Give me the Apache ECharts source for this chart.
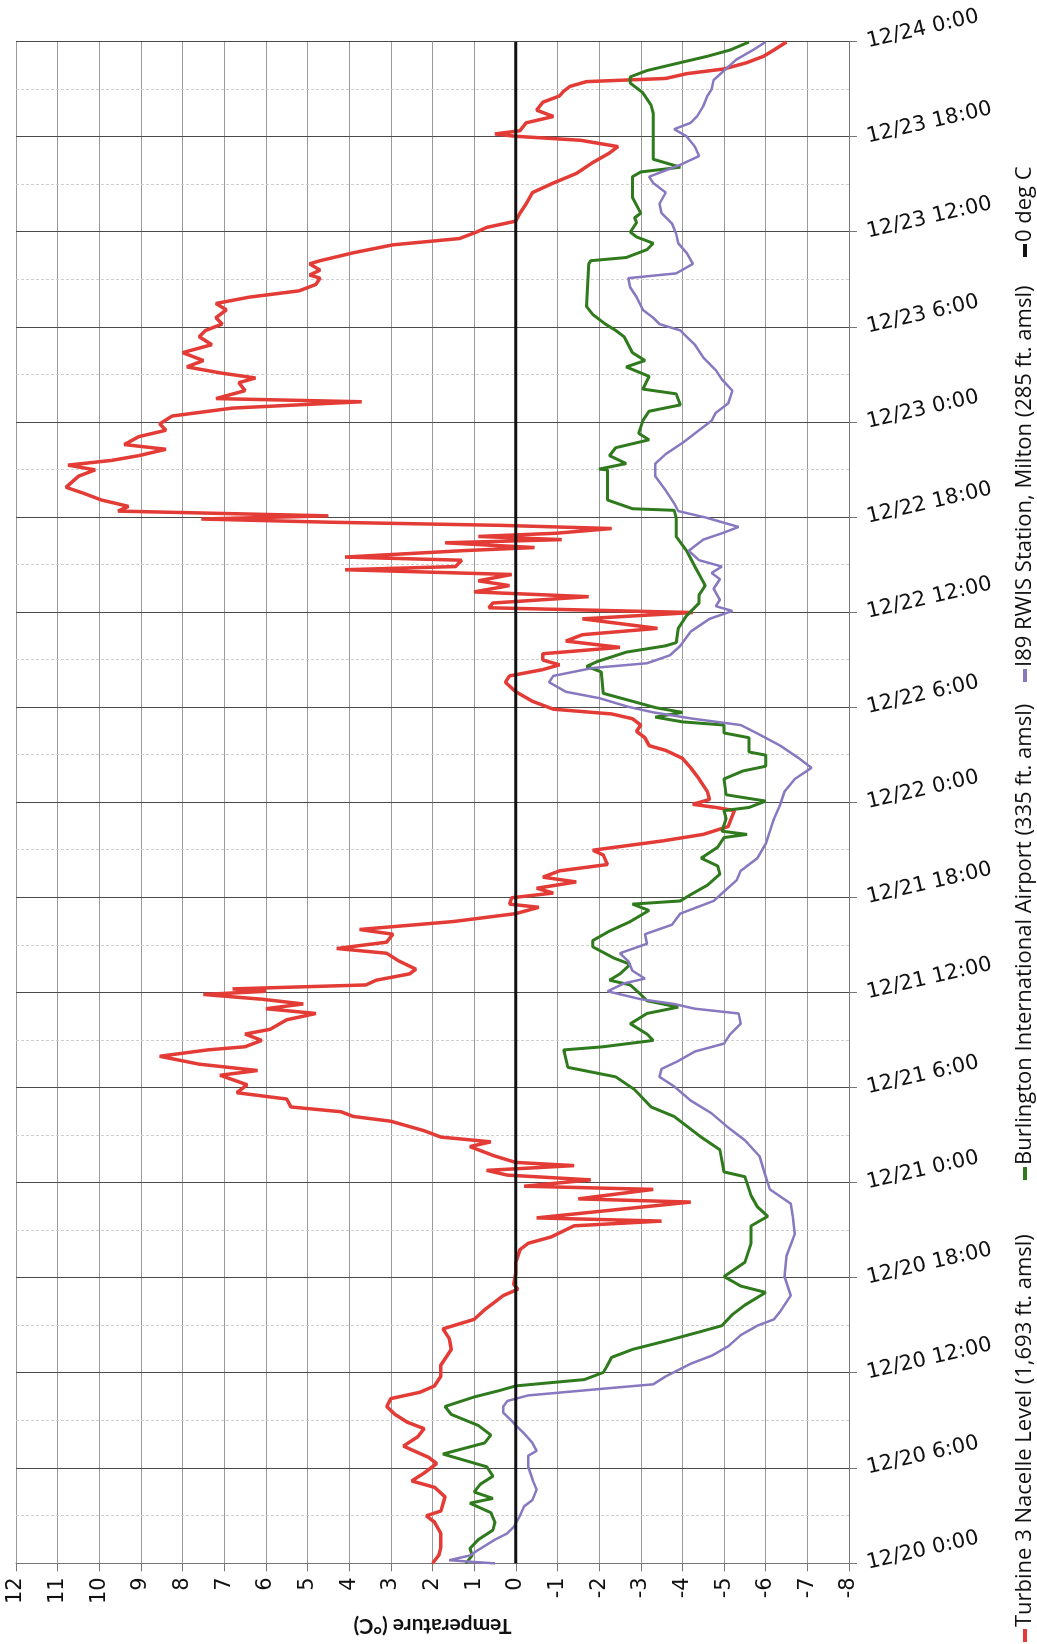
<!DOCTYPE html>
<html>
<head>
<meta charset="utf-8">
<title>Temperature, 12/20 - 12/24</title>
<script src="https://cdn.jsdelivr.net/npm/echarts@6.0.0/dist/echarts.min.js"></script>
<style>
  html, body { margin: 0; padding: 0; background: #fff; overflow: hidden; }
  #wrap { position: absolute; left: 0; top: 0; width: 1037px; height: 1644px; overflow: hidden; }
  /* chart is laid out landscape, then turned a quarter left like the scanned page */
  #chart { position: absolute; left: 0; top: 0; width: 1644px; height: 1037px;
           transform-origin: 0 0; transform: translate(0, 1644px) rotate(-90deg); }
</style>
</head>
<body>
<div id="wrap"><div id="chart"></div></div>
<script>
// hours since 12/20 0:00, temperature in deg C
const timeLabels = ['12/20 0:00', '12/20 6:00', '12/20 12:00', '12/20 18:00',
  '12/21 0:00', '12/21 6:00', '12/21 12:00', '12/21 18:00',
  '12/22 0:00', '12/22 6:00', '12/22 12:00', '12/22 18:00',
  '12/23 0:00', '12/23 6:00', '12/23 12:00', '12/23 18:00', '12/24 0:00'];

const seriesNames = ['Turbine 3 Nacelle Level (1,693 ft. amsl)',
  'Burlington International Airport (335 ft. amsl)',
  'I89 RWIS Station, Milton (285 ft. amsl)',
  '0 deg C'];

const turbine = [[0,2.0],[0.5,1.85],[1.0,1.8],[1.9,1.8],[2.6,1.95],[3.0,2.15],[3.3,1.8],[4.2,1.7],[4.8,1.95],
  [5.2,2.5],[5.7,2.2],[6.3,1.9],[6.7,2.1],[7.4,2.7],[8.0,2.35],[8.5,2.2],[8.9,2.6],[9.4,2.9],[9.9,3.1],
  [10.4,3.0],[10.8,2.3],[11.2,1.95],[11.8,1.8],[12.5,1.8],[13.5,1.55],[14.2,1.6],[14.8,1.75],[15.4,1.0],
  [16.0,0.75],[16.5,0.5],[16.9,0.3],[17.3,-0.05],[17.6,0.05],[18.3,0.0],[19.0,0.0],[19.8,-0.1],[20.2,-0.3],
  [20.6,-0.85],[21.3,-1.4],[21.6,-3.5],[21.8,-0.5],[22.1,-1.6],[22.8,-4.2],[23.0,-1.5],[23.6,-3.3],[23.8,-0.2],
  [24.2,-1.8],[24.5,0.2],[24.8,0.7],[25.1,-1.4],[25.3,0.0],[25.7,0.5],[26.3,1.1],[26.6,0.6],[26.9,1.8],
  [27.3,2.2],[27.9,3.0],[28.2,3.9],[28.5,4.2],[28.8,5.4],[29.3,5.5],[29.7,6.7],[30.2,6.45],[30.8,7.1],
  [31.1,6.2],[31.5,7.6],[32.0,8.55],[32.4,7.4],[32.6,6.5],[33.0,6.1],[33.4,6.5],[33.7,5.9],[34.3,5.5],
  [34.7,4.8],[35.0,6.0],[35.3,5.1],[35.6,6.1],[35.9,7.5],[36.1,6.0],[36.25,6.8],[36.5,3.6],[36.8,3.35],
  [37.2,2.55],[37.5,2.4],[38.0,2.8],[38.5,3.1],[38.8,4.3],[39.2,3.1],[39.7,2.95],[40.0,3.75],[40.5,1.5],
  [41.0,0.0],[41.4,-0.55],[41.6,0.15],[42.0,0.1],[42.3,-0.9],[42.6,-0.5],[43.0,-1.45],[43.3,-0.65],
  [43.7,-1.05],[44.1,-2.2],[44.7,-2.1],[45.0,-1.85],[45.6,-3.55],[46.0,-4.5],[46.5,-5.1],[47.5,-5.25],
  [47.7,-4.8],[47.9,-4.25],[48.2,-4.65],[48.7,-4.6],[49.5,-4.4],[50.2,-4.2],[50.8,-4.0],[51.3,-3.6],
  [51.6,-3.2],[52.1,-3.1],[52.5,-2.9],[52.9,-3.0],[53.3,-2.8],[53.6,-2.3],[53.9,-0.9],[54.4,-0.4],
  [55.0,0.0],[55.6,0.25],[56.0,0.15],[56.4,-0.65],[56.7,-1.05],[57.0,-0.65],[57.4,-0.65],[57.8,-2.5],
  [58.2,-1.2],[58.6,-1.6],[59.0,-3.4],[59.6,-1.6],[60.0,-4.25],[60.3,0.65],[60.6,0.55],[61.0,-1.75],
  [61.3,1.0],[61.7,0.15],[62.0,0.9],[62.4,0.1],[62.7,4.1],[62.9,1.45],[63.3,1.3],[63.5,4.1],[63.9,1.3],
  [64.1,-0.45],[64.4,1.7],[64.6,-1.1],[64.8,0.9],[65.0,-0.95],[65.3,-2.3],[65.5,0.35],[65.7,4.5],
  [65.9,7.55],[66.1,4.5],[66.4,9.55],[66.7,9.3],[67.1,9.95],[67.5,10.35],[67.9,10.8],[68.6,10.5],
  [69.0,10.1],[69.3,10.75],[69.6,9.7],[69.9,9.05],[70.3,8.4],[70.6,9.4],[71.1,9.05],[71.5,8.4],
  [71.9,8.55],[72.4,8.25],[72.9,6.8],[73.3,3.7],[73.5,7.2],[74.0,6.5],[74.5,6.65],[74.8,6.25],[75.1,7.05],
  [75.5,7.9],[75.9,7.5],[76.4,8.0],[76.9,7.3],[77.4,7.6],[77.8,7.45],[78.2,7.05],[78.6,7.2],[79.1,6.95],
  [79.5,7.2],[79.9,6.4],[80.3,5.2],[80.7,4.8],[81.1,4.7],[81.3,4.95],[81.6,4.7],[82.0,4.95],[82.2,4.7],
  [82.7,3.9],[83.2,2.95],[83.6,1.35],[84.0,0.95],[84.3,0.7],[84.7,0.0],[85.2,-0.1],[85.8,-0.25],
  [86.5,-0.4],[87.1,-0.9],[87.7,-1.45],[88.4,-1.85],[89.0,-2.25],[89.4,-2.45],[89.8,-1.55],[90.05,0.0],
  [90.2,0.5],[90.4,-0.1],[90.9,-0.25],[91.3,-0.9],[91.7,-0.5],[92.2,-0.65],[92.6,-1.05],[92.9,-1.15],
  [93.2,-1.3],[93.5,-1.7],[93.7,-3.6],[94.0,-4.1],[94.3,-5.0],[94.7,-5.55],[95.1,-5.95],[95.5,-6.2],[96,-6.5]];

const airport = [[0,1.2],[0.5,1.05],[0.95,1.1],[1.5,0.9],[2.1,0.55],[2.6,0.5],[3.2,0.6],[3.8,1.1],[4.1,0.55],
  [4.5,1.0],[5.0,0.85],[5.5,0.55],[6.1,0.7],[6.9,1.75],[7.6,0.75],[8.1,0.6],[8.7,0.9],[9.4,1.55],[9.9,1.7],
  [10.5,1.0],[10.9,0.4],[11.2,0.0],[11.6,-1.65],[12.05,-2.1],[12.5,-2.2],[13.0,-2.3],[13.5,-2.8],[14.1,-3.7],
  [14.6,-4.4],[15.0,-4.95],[15.7,-5.2],[16.3,-5.5],[17.1,-6.0],[17.5,-5.4],[18.1,-5.0],[19.0,-5.5],
  [20.2,-5.65],[21.3,-5.65],[21.9,-6.05],[22.5,-5.8],[23.2,-5.65],[24.4,-5.5],[24.7,-5.0],[26.1,-4.9],
  [26.9,-4.45],[28.2,-3.8],[28.8,-3.25],[29.9,-2.85],[30.7,-2.4],[31.3,-1.25],[32.4,-1.15],[32.6,-2.1],
  [33.0,-3.3],[33.4,-3.15],[34.05,-2.75],[34.7,-3.15],[35.1,-3.9],[35.5,-3.15],[35.9,-3.0],[36.5,-2.75],
  [36.8,-2.25],[37.2,-2.5],[37.8,-2.75],[38.2,-2.35],[38.9,-1.85],[39.3,-1.85],[39.9,-2.25],[40.5,-2.75],
  [41.2,-3.2],[41.6,-2.8],[41.8,-3.95],[42.2,-4.2],[42.8,-4.6],[43.5,-4.9],[44.0,-4.85],[44.5,-4.45],
  [45.2,-4.85],[45.8,-5.0],[46.0,-5.55],[46.2,-4.95],[47.0,-5.05],[47.5,-5.0],[47.7,-5.6],[48.1,-6.0],
  [48.5,-5.05],[49.5,-5.0],[50.0,-5.45],[50.3,-6.0],[51.0,-6.0],[51.2,-5.6],[52.1,-5.6],[52.4,-5.0],
  [52.9,-5.0],[53.1,-4.0],[53.4,-3.35],[53.7,-4.0],[54.0,-3.35],[54.4,-2.8],[54.9,-2.1],[56.25,-2.05],
  [56.6,-1.7],[56.9,-1.95],[57.5,-2.65],[57.9,-3.6],[58.1,-3.85],[59.0,-3.9],[59.8,-4.1],[60.6,-4.4],
  [61.1,-4.4],[61.7,-4.55],[62.9,-4.3],[63.9,-4.1],[64.8,-3.85],[66.0,-3.85],[66.45,-3.8],[66.55,-2.8],
  [67.1,-2.2],[69.0,-2.2],[69.05,-2.0],[69.4,-2.65],[69.9,-2.25],[70.4,-2.4],[70.9,-3.2],[71.3,-2.95],
  [72.1,-3.05],[72.7,-3.2],[73.1,-3.95],[73.8,-3.85],[74.1,-3.05],[74.9,-3.2],[75.5,-2.65],[75.9,-3.1],
  [76.4,-2.8],[77.4,-2.6],[77.8,-2.4],[78.2,-2.15],[78.8,-1.85],[79.3,-1.7],[82.0,-1.75],[82.2,-1.8],
  [82.4,-2.65],[82.9,-3.15],[83.3,-3.3],[83.7,-2.9],[84.0,-2.75],[84.6,-2.9],[84.9,-2.85],[85.2,-3.0],
  [86.2,-2.8],[87.5,-2.8],[87.8,-3.0],[88.1,-3.95],[88.6,-3.3],[91.5,-3.3],[92.0,-3.25],[92.8,-3.05],
  [93.4,-2.75],[93.8,-2.75],[94.2,-3.15],[94.7,-3.95],[95.1,-4.6],[95.5,-5.15],[96,-5.6]];

const rwis = [[0,0.5],[0.2,1.6],[0.5,1.1],[0.85,0.9],[1.5,0.5],[1.9,0.2],[2.3,0.05],[3.0,-0.1],[3.6,-0.2],
  [4.0,-0.4],[4.65,-0.5],[5.3,-0.4],[6.1,-0.3],[6.8,-0.3],[7.1,-0.5],[7.6,-0.4],[8.2,-0.2],[8.7,0.0],
  [9.0,0.1],[9.5,0.3],[9.9,0.3],[10.25,0.2],[10.6,-0.3],[11.0,-2.0],[11.3,-3.3],[11.8,-3.6],[12.2,-3.9],
  [12.6,-4.2],[13.1,-4.7],[13.7,-5.1],[14.4,-5.4],[15.0,-5.8],[15.4,-6.2],[15.9,-6.35],[16.9,-6.6],
  [18.1,-6.45],[19.4,-6.5],[20.8,-6.7],[21.9,-6.65],[22.7,-6.6],[23.6,-6.1],[24.4,-6.0],[25.7,-5.85],
  [26.7,-5.5],[27.5,-5.1],[28.4,-4.7],[29.2,-4.2],[30.1,-3.8],[30.7,-3.45],[31.2,-3.5],[31.7,-3.9],
  [32.3,-4.3],[32.8,-5.0],[33.4,-5.15],[34.05,-5.4],[34.7,-5.35],[35.0,-4.3],[35.3,-3.8],[35.6,-3.0],
  [36.1,-2.2],[36.6,-2.6],[36.9,-3.1],[37.4,-2.8],[38.0,-2.7],[38.5,-2.5],[39.1,-3.15],[39.7,-3.1],
  [40.3,-3.75],[41.0,-3.95],[41.8,-4.75],[42.4,-5.0],[43.1,-5.3],[43.7,-5.4],[44.5,-5.8],[45.4,-6.0],
  [46.2,-6.1],[47.0,-6.2],[47.9,-6.35],[48.7,-6.45],[49.5,-6.7],[50.2,-7.1],[50.8,-6.8],[51.6,-6.35],
  [52.3,-5.85],[52.9,-5.4],[53.3,-4.25],[53.7,-3.3],[54.05,-2.7],[54.6,-2.0],[55.0,-1.2],[55.6,-0.8],
  [56.0,-0.9],[56.5,-1.85],[56.8,-3.15],[57.3,-3.7],[57.9,-3.95],[58.8,-4.2],[59.6,-4.65],[60.1,-5.2],
  [60.4,-4.8],[60.8,-4.9],[61.5,-4.75],[62.1,-4.9],[62.5,-4.7],[62.9,-4.95],[63.3,-4.4],[63.9,-4.15],
  [64.6,-4.5],[65.0,-4.95],[65.4,-5.35],[66.0,-4.55],[66.4,-3.9],[66.9,-3.8],[67.7,-3.6],[68.6,-3.35],
  [69.4,-3.35],[70.0,-3.6],[70.7,-4.0],[71.5,-4.4],[72.1,-4.7],[72.6,-4.8],[73.2,-5.1],[74.0,-5.2],
  [74.7,-4.95],[75.3,-4.8],[76.1,-4.5],[76.9,-4.3],[77.4,-4.1],[77.8,-3.95],[78.2,-3.45],[78.6,-3.3],
  [79.1,-3.05],[79.9,-2.9],[80.5,-2.75],[81.1,-2.7],[81.4,-3.85],[82.0,-4.25],[82.7,-4.1],[83.3,-3.9],
  [83.9,-3.85],[84.55,-3.75],[85.2,-3.5],[85.8,-3.45],[86.5,-3.6],[87.1,-3.3],[87.5,-3.2],[87.9,-3.6],
  [88.25,-3.95],[88.8,-4.4],[89.4,-4.3],[90.05,-4.1],[90.5,-3.8],[90.9,-4.2],[91.3,-4.35],[91.95,-4.5],
  [92.6,-4.6],[93.0,-4.7],[93.6,-4.75],[94.2,-5.0],[94.9,-5.3],[95.5,-5.7],[96,-6.0]];

const zeroLine = [[0,0],[96,0]];

const colors = ['#e33b36', '#2f7a1d', '#8878c0', '#111111'];

const chart = echarts.init(document.getElementById('chart'));

// one legend box per entry so each sits where it does on the page
const legendLeft = [2, 464, 962, 1387];
const legends = seriesNames.map((n, i) => ({
  data: [n],
  left: legendLeft[i],
  top: 1014,
  padding: 0,
  icon: 'rect',
  itemWidth: 13,
  itemHeight: 4,
  selectedMode: false,
  textStyle: { fontFamily: 'Open Sans', fontSize: 22, color: '#111', padding: [0, 0, 0, -3] }
}));

const lineSeries = (name, data, color, width, z) => ({
  name: name,
  type: 'line',
  data: data,
  symbol: 'none',
  showSymbol: false,
  smooth: false,
  z: z,
  itemStyle: { color: color },
  lineStyle: { color: color, width: width }
});

const option = {
  animation: false,
  backgroundColor: '#fff',
  grid: { left: 76, right: 42, top: 16, bottom: 188 },
  legend: legends,
  xAxis: {
    type: 'value',
    min: 0,
    max: 96,
    interval: 6,
    axisLine: { show: true, onZero: false, lineStyle: { color: '#777', width: 1 } },
    axisTick: { show: true, length: 8, lineStyle: { color: '#777' } },
    axisLabel: {
      rotate: -77,
      margin: 18,
      fontFamily: 'DejaVu Sans',
      fontSize: 21,
      color: '#111',
      formatter: v => timeLabels[Math.round(v / 6)]
    },
    splitLine: { show: true, lineStyle: { color: '#4a4a4a', width: 1 } },
    minorTick: { show: false, splitNumber: 2 },
    minorSplitLine: { show: true, lineStyle: { color: '#cfcfcf', width: 1, type: [3, 2] } }
  },
  yAxis: {
    type: 'value',
    min: -8,
    max: 12,
    interval: 1,
    name: 'Temperature (°C)',
    nameLocation: 'middle',
    nameGap: 45,
    nameTextStyle: { fontFamily: 'Lato', fontWeight: 'bold', fontSize: 21, color: '#111' },
    axisLine: { show: true, onZero: false, lineStyle: { color: '#777', width: 1 } },
    axisTick: { show: true, length: 8, lineStyle: { color: '#777' } },
    axisLabel: { margin: 14, fontFamily: 'DejaVu Sans', fontSize: 21, color: '#111' },
    splitLine: { show: true, lineStyle: { color: '#9a9a9a', width: 1 } }
  },
  series: [
    lineSeries(seriesNames[0], turbine, colors[0], 3.5, 2),
    lineSeries(seriesNames[1], airport, colors[1], 3, 3),
    lineSeries(seriesNames[2], rwis, colors[2], 2.5, 4),
    lineSeries(seriesNames[3], zeroLine, colors[3], 3, 5)
  ]
};

chart.setOption(option);
</script>
</body>
</html>
